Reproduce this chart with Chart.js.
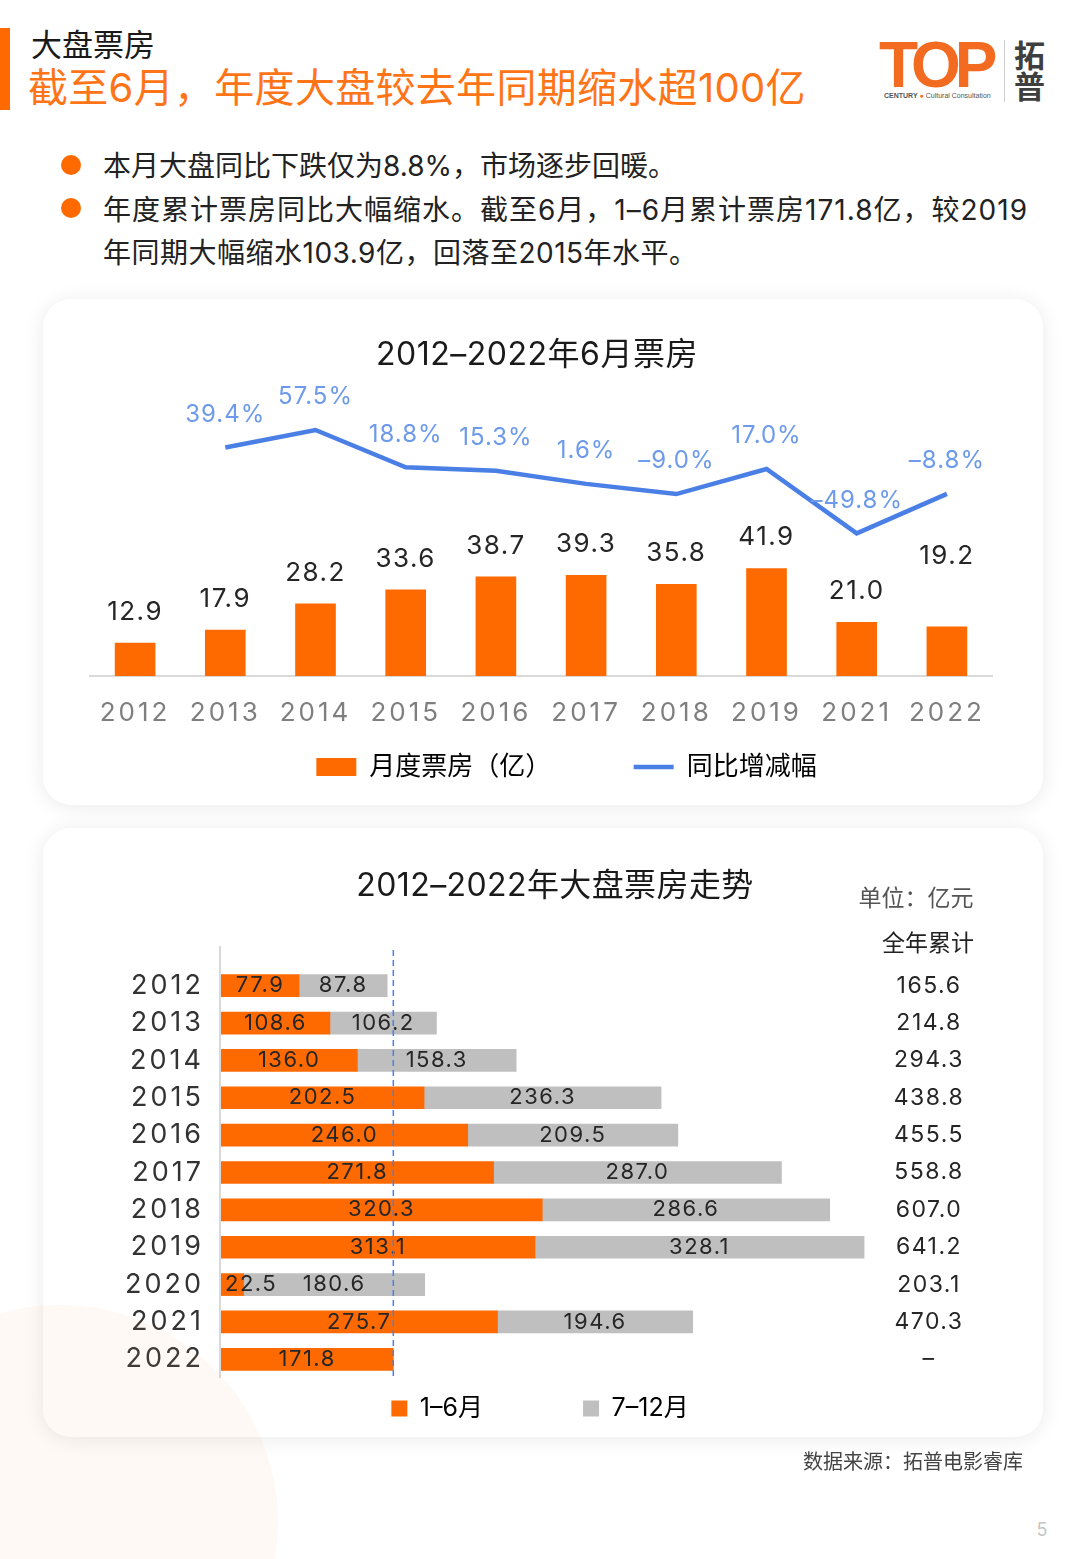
<!DOCTYPE html>
<html><head><meta charset="utf-8">
<script src="https://cdn.jsdelivr.net/npm/chart.js@4.4.1/dist/chart.umd.min.js"></script>
<style>
html,body{margin:0;padding:0;}
body{width:1080px;height:1559px;position:relative;background:#fff;overflow:hidden;font-family:Inter,'Noto Sans CJK SC',sans-serif;color:#222;}
.abs{position:absolute;white-space:nowrap;}
.card{position:absolute;left:43px;width:1000px;background:#fff;border-radius:28px;box-shadow:0 2px 20px rgba(0,0,0,0.085);}
.card canvas{position:absolute;left:0;top:0;}
.dot{position:absolute;left:61px;width:20px;height:20px;border-radius:50%;background:#ff6a00;}
</style></head>
<body>
<div class="abs" style="left:0;top:28px;width:10px;height:82px;background:#ff6a00;"></div>
<div class="abs" style="left:31px;top:27px;font-size:31px;line-height:36px;color:#1a1a1a;">大盘票房</div>
<div class="abs" style="left:28px;top:64px;font-size:40px;line-height:48px;letter-spacing:0.3px;color:#ff7417;">截至6月，年度大盘较去年同期缩水超100亿</div>

<!-- logo -->
<div class="abs" style="left:879px;top:33px;font-family:'Liberation Sans',Arial,sans-serif;font-weight:bold;font-size:64px;line-height:64px;letter-spacing:-6px;color:#f26b21;">TOP</div>
<div class="abs" style="left:884px;top:91px;font-family:'Liberation Sans',sans-serif;font-size:7px;line-height:9px;color:#555;"><b>CENTURY</b> <span style="color:#f26b21">●</span> Cultural Consultation</div>
<div class="abs" style="left:1004px;top:40px;width:1px;height:62px;background:#cfcfcf;"></div>
<div class="abs" style="left:1014px;top:38px;font-family:'Noto Sans CJK SC';font-weight:bold;font-size:31px;line-height:31px;color:#3f3f3f;">拓<br>普</div>

<!-- bullets -->
<div class="dot" style="top:155px;"></div>
<div class="dot" style="top:198px;"></div>
<div class="abs" style="left:103px;top:144px;font-size:28px;line-height:44px;color:#222;">本月大盘同比下跌仅为8.8%，市场逐步回暖。</div>
<div class="abs" style="left:103px;top:189px;font-size:28px;line-height:43px;letter-spacing:1px;color:#222;">年度累计票房同比大幅缩水。截至6月，1–6月累计票房171.8亿，较2019</div>
<div class="abs" style="left:103px;top:232px;font-size:28px;line-height:43px;letter-spacing:0.5px;color:#222;">年同期大幅缩水103.9亿，回落至2015年水平。</div>

<div class="card" style="top:299px;height:506px;">
  <canvas id="c1" width="1000" height="506"></canvas>
</div>
<div class="card" style="top:828px;height:609px;">
  <canvas id="c2" width="1000" height="609"></canvas>
</div>

<div class="abs" style="left:37px;top:334px;width:1000px;text-align:center;font-size:32px;line-height:40px;letter-spacing:0.5px;color:#1a1a1a;">2012–2022年6月票房</div>
<div class="abs" style="left:55px;top:865px;width:1000px;text-align:center;font-size:32px;line-height:40px;letter-spacing:0.4px;color:#1a1a1a;">2012–2022年大盘票房走势</div>
<div class="abs" style="left:816px;top:884px;width:200px;text-align:center;font-size:23px;line-height:28px;color:#555;">单位：亿元</div>
<div class="abs" style="left:828px;top:929px;width:200px;text-align:center;font-size:23px;line-height:28px;color:#222;">全年累计</div>

<div class="abs" style="right:57px;top:1450px;font-size:20px;line-height:24px;color:#444;">数据来源：拓普电影睿库</div>
<div class="abs" style="left:1032px;top:1519px;width:20px;text-align:center;font-size:18px;line-height:22px;color:#c4c4c4;">5</div>

<div class="abs" style="left:-158px;top:1305px;width:436px;height:436px;border-radius:50%;background:rgba(250,170,120,0.07);pointer-events:none;"></div>

<script>
// ---------- data ----------
const juneYears = ['2012','2013','2014','2015','2016','2017','2018','2019','2021','2022'];
const juneBoxOffice = [12.9, 17.9, 28.2, 33.6, 38.7, 39.3, 35.8, 41.9, 21.0, 19.2];
const juneYoY = [null, 39.4, 57.5, 18.8, 15.3, 1.6, -9.0, 17.0, -49.8, -8.8];

const allYears = ['2012','2013','2014','2015','2016','2017','2018','2019','2020','2021','2022'];
const firstHalf = [77.9, 108.6, 136.0, 202.5, 246.0, 271.8, 320.3, 313.1, 22.5, 275.7, 171.8];
const secondHalf = [87.8, 106.2, 158.3, 236.3, 209.5, 287.0, 286.6, 328.1, 180.6, 194.6, null];
const fullYear = [165.6, 214.8, 294.3, 438.8, 455.5, 558.8, 607.0, 641.2, 203.1, 470.3, null];

const seriesNames1 = ['月度票房（亿）', '同比增减幅'];
const seriesNames2 = ['1–6月', '7–12月'];

// ---------- styles ----------
const FONT = "Inter, 'Noto Sans CJK SC', sans-serif";
const ORANGE = '#ff6a00';
const GRAY = '#bfbfbf';
const BLUE = '#4a7fe6';
const BLUE_LABEL = '#6d9aea';

// letter spacing for axis tick labels only
const textSpacing = {
  id: 'textSpacing',
  beforeDraw(chart, args, opts) {
    const ctx = chart.ctx;
    ctx.letterSpacing = '0px';
    (opts.scaleIds || []).forEach(id => {
      const sc = chart.scales[id];
      if (sc && !sc._spacingWrapped) {
        const orig = sc.drawLabels;
        sc.drawLabels = function (ca) {
          const prev = ctx.letterSpacing;
          ctx.letterSpacing = opts.ticks + 'px';
          orig.call(this, ca);
          ctx.letterSpacing = prev;
        };
        sc._spacingWrapped = true;
      }
    });
  }
};

const c1Labels = {
  id: 'c1Labels',
  afterDatasetsDraw(chart, args, opts) {
    const ctx = chart.ctx;
    ctx.save();
    ctx.textAlign = 'center';
    ctx.textBaseline = 'middle';
    ctx.letterSpacing = opts.spacing + 'px';
    ctx.font = '26px ' + FONT;
    ctx.fillStyle = '#262626';
    const barData = chart.data.datasets[0].data;
    chart.getDatasetMeta(0).data.forEach((el, i) => {
      const lift = (opts.raised && opts.raised[i]) || opts.gap;
      ctx.fillText(barData[i].toFixed(1), el.x, el.y - lift);
    });
    ctx.font = '24px ' + FONT;
    ctx.fillStyle = BLUE_LABEL;
    ctx.letterSpacing = '1px';
    const lineData = chart.data.datasets[1].data;
    chart.getDatasetMeta(1).data.forEach((el, i) => {
      const v = lineData[i];
      if (v === null || v === undefined) return;
      const t = (v < 0 ? '–' : '') + Math.abs(v).toFixed(1) + '%';
      ctx.fillText(t, el.x, el.y - opts.lineGap);
    });
    ctx.restore();
  }
};

new Chart(document.getElementById('c1'), {
  data: {
    labels: juneYears,
    datasets: [
      { type: 'bar', label: seriesNames1[0], data: juneBoxOffice, backgroundColor: ORANGE,
        barThickness: 40, yAxisID: 'y', order: 2 },
      { type: 'line', label: seriesNames1[1], data: juneYoY, borderColor: BLUE, borderWidth: 4.5,
        pointRadius: 0, yAxisID: 'y2', order: 1, tension: 0, spanGaps: false, fill: false }
    ]
  },
  options: {
    responsive: false, animation: false,
    layout: { padding: { left: 47, right: 0, top: 85, bottom: 15 } },
    scales: {
      x: {
        grid: { display: false, drawTicks: false },
        border: { display: true, color: '#d9d9d9', width: 2 },
        ticks: { font: { size: 26, family: FONT }, color: '#7f7f7f', padding: 22 },
        afterFit: s => { s.height = 68; }
      },
      y: { display: false, min: 0, max: 114 },
      y2: {
        position: 'right', min: -197.9, max: 105.3,
        grid: { display: false, drawTicks: false }, border: { display: false },
        ticks: { display: false },
        afterFit: s => { s.width = 51; }
      }
    },
    plugins: {
      tooltip: { enabled: false },
      legend: {
        position: 'bottom',
        labels: {
          usePointStyle: true, pointStyleWidth: 40, boxHeight: 18, padding: 10,
          font: { size: 26, family: FONT }, color: '#595959',
          generateLabels: (chart) => [
            { text: chart.data.datasets[0].label + '\u3000\u3000\u3000 ', fillStyle: ORANGE, strokeStyle: ORANGE,
              lineWidth: 0, pointStyle: 'rect', datasetIndex: 0, hidden: false },
            { text: chart.data.datasets[1].label, fillStyle: BLUE, strokeStyle: BLUE,
              lineWidth: 4.5, pointStyle: 'line', datasetIndex: 1, hidden: false }
          ]
        }
      },
      textSpacing: { ticks: 3, scaleIds: ['x'] },
      c1Labels: { gap: 31, lineGap: 33, spacing: 1.5, raised: { 9: 71 } }
    }
  },
  plugins: [textSpacing, c1Labels]
});

const c2Extras = {
  id: 'c2Extras',
  afterDatasetsDraw(chart, args, opts) {
    const { ctx, chartArea, scales } = chart;
    ctx.save();
    // y axis line
    ctx.strokeStyle = '#d9d9d9';
    ctx.lineWidth = 2;
    ctx.beginPath();
    ctx.moveTo(chartArea.left - 1, chartArea.top - 21);
    ctx.lineTo(chartArea.left - 1, chartArea.bottom);
    ctx.stroke();
    // segment labels
    ctx.font = '22px ' + FONT;
    ctx.letterSpacing = '1.5px';
    ctx.fillStyle = '#262626';
    ctx.textBaseline = 'middle';
    chart.data.datasets.forEach((ds, di) => {
      chart.getDatasetMeta(di).data.forEach((el, i) => {
        const v = ds.data[i];
        if (v === null || v === undefined) return;
        const t = v.toFixed(1);
        const w = ctx.measureText(t).width;
        const segW = Math.abs(el.x - el.base);
        if (w + 6 > segW) {
          ctx.textAlign = 'left';
          ctx.fillText(t, Math.min(el.x, el.base) + 4, el.y);
        } else {
          ctx.textAlign = 'center';
          ctx.fillText(t, (el.x + el.base) / 2, el.y);
        }
      });
    });
    // dashed reference line at this year's 1–6月 value
    const ref = firstHalf[firstHalf.length - 1];
    const px = scales.x.getPixelForValue(ref);
    ctx.strokeStyle = BLUE;
    ctx.lineWidth = 1.5;
    ctx.setLineDash([6, 4]);
    ctx.beginPath();
    ctx.moveTo(px, chartArea.top - 17);
    ctx.lineTo(px, chartArea.bottom + 2);
    ctx.stroke();
    ctx.setLineDash([]);
    // full-year totals
    ctx.font = '23px ' + FONT;
    ctx.fillStyle = '#262626';
    ctx.textAlign = 'center';
    fullYear.forEach((v, i) => {
      ctx.fillText(v === null ? '–' : v.toFixed(1), opts.totalsX, scales.y.getPixelForValue(i));
    });
    ctx.restore();
  }
};

new Chart(document.getElementById('c2'), {
  type: 'bar',
  data: {
    labels: allYears,
    datasets: [
      { label: seriesNames2[0], data: firstHalf, backgroundColor: ORANGE, barThickness: 22 },
      { label: seriesNames2[1], data: secondHalf, backgroundColor: GRAY, barThickness: 22 }
    ]
  },
  options: {
    indexAxis: 'y', responsive: false, animation: false,
    layout: { padding: { left: 0, right: 6, top: 139, bottom: 6 } },
    scales: {
      x: { stacked: true, display: false, min: 0, max: 813.6 },
      y: {
        stacked: true,
        grid: { display: false, drawTicks: false }, border: { display: false },
        ticks: { font: { size: 27, family: FONT }, color: '#333', padding: 17 },
        afterFit: s => { s.width = 178; }
      }
    },
    plugins: {
      tooltip: { enabled: false },
      legend: {
        position: 'bottom',
        labels: {
          boxWidth: 16, boxHeight: 16, padding: 18,
          font: { size: 25, family: FONT }, color: '#333',
          generateLabels: (chart) => [
            { text: chart.data.datasets[0].label + '\u3000\u3000\u3000 ', fillStyle: ORANGE, strokeStyle: ORANGE,
              lineWidth: 0, datasetIndex: 0, hidden: false },
            { text: chart.data.datasets[1].label, fillStyle: GRAY, strokeStyle: GRAY,
              lineWidth: 0, datasetIndex: 1, hidden: false }
          ]
        }
      },
      textSpacing: { ticks: 3, scaleIds: ['y'] },
      c2Extras: { totalsX: 886 }
    }
  },
  plugins: [textSpacing, c2Extras]
});
</script>
</body></html>
